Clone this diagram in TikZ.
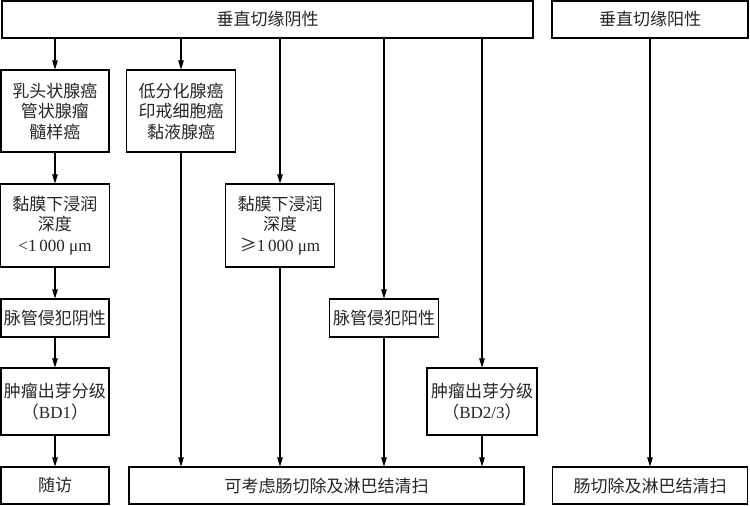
\documentclass[tikz,border=0pt]{standalone}
\usepackage{fontspec}
\setmainfont{Liberation Serif}
\newfontfamily\cjk{Noto Sans CJK SC}
\usetikzlibrary{arrows.meta}
\newcommand\latn[1]{{\rmfamily #1}}
\begin{document}
\begin{tikzpicture}[x=1pt,y=-1pt,
  box/.style={draw=black, line width=1.1pt, fill=white, align=center, inner sep=1pt,
    font=\cjk\fontsize{17}{20.5}\selectfont, text=black!85},
  arr/.style={draw=black, line width=1.1pt, -{Triangle[length=9pt,width=5.5pt]}}]
\useasboundingbox (0,0) rectangle (750,506);
\fill[white] (0,0) rectangle (750,506);
% nodes
\node[box, minimum width=531pt, minimum height=37pt] (top) at (267.5,19.5) {垂直切缘阴性};
\node[box, minimum width=196pt, minimum height=37pt] (topR) at (650,19.5) {垂直切缘阳性};
\node[box, minimum width=108pt, minimum height=82pt] (b1) at (55,111) {乳头状腺癌\\管状腺瘤\\髓样癌};
\node[box, minimum width=109pt, minimum height=82pt] (b2) at (181,111) {低分化腺癌\\印戒细胞癌\\黏液腺癌};
\node[box, minimum width=109pt, minimum height=83pt] (b3) at (55,225.5) {黏膜下浸润\\深度\\\latn{<1\,000 μm}};
\node[box, minimum width=109pt, minimum height=83pt] (b4) at (280,225.5) {黏膜下浸润\\深度\\≥\latn{1\,000 μm}};
\node[box, minimum width=108pt, minimum height=38pt] (b5) at (55,318) {脉管侵犯阴性};
\node[box, minimum width=109pt, minimum height=38pt] (b6) at (384,318) {脉管侵犯阳性};
\node[box, minimum width=108pt, minimum height=67pt] (b7) at (55,401.5) {肿瘤出芽分级\\（\latn{BD1}）};
\node[box, minimum width=110pt, minimum height=67pt] (b8) at (482,401.5) {肿瘤出芽分级\\（\latn{BD2/3}）};
\node[box, minimum width=108pt, minimum height=37pt] (b9) at (55,485.5) {随访};
\node[box, minimum width=395pt, minimum height=37pt] (b10) at (326.5,485.5) {可考虑肠切除及淋巴结清扫};
\node[box, minimum width=195pt, minimum height=37pt] (b11) at (650,485.5) {肠切除及淋巴结清扫};
% connectors from top
\draw[arr] (b1.north |- top.south) -- (b1.north);
\draw[arr] (b2.north |- top.south) -- (b2.north);
\draw[arr] (b4.north |- top.south) -- (b4.north);
\draw[arr] (b6.north |- top.south) -- (b6.north);
\draw[arr] (b8.north |- top.south) -- (b8.north);
\draw[arr] (topR.south) -- (topR.south |- b11.north);
% left column
\draw[arr] (b1.south) -- (b3.north);
\draw[arr] (b3.south) -- (b5.north);
\draw[arr] (b5.south) -- (b7.north);
\draw[arr] (b7.south) -- (b9.north);
% into b10
\draw[arr] (b2.south) -- (b2.south |- b10.north);
\draw[arr] (b4.south) -- (b4.south |- b10.north);
\draw[arr] (b6.south) -- (b6.south |- b10.north);
\draw[arr] (b8.south) -- (b8.south |- b10.north);
\end{tikzpicture}
\end{document}
